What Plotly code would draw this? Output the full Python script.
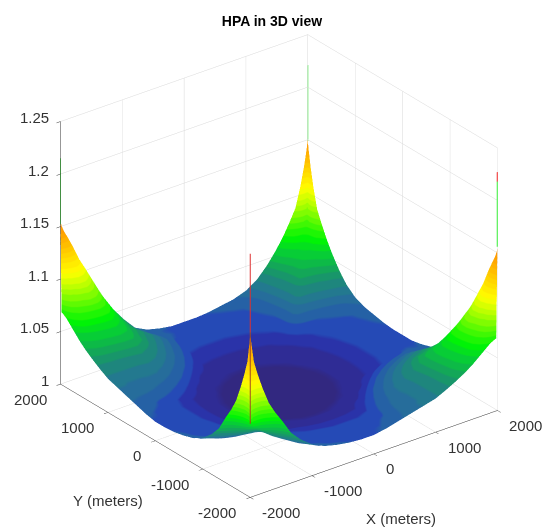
import numpy as np
import plotly.graph_objects as go

# distances from the domain edges (metres) shared by the whole grid
edge_offsets = [0, 20, 60, 120, 200, 300, 400, 520, 660, 820, 1000, 1200, 1400, 1600, 1800, 2000]

# rows common to the front and back corners (lower triangles)
inner_rows = [
    [1.021, 1.021, 1.020, 1.019, 1.018, 1.0175, 1.017, 1.0165, 1.015, 1.0135, 1.0095, 1.0075, 1.005],
    [1.019, 1.019, 1.0185, 1.018, 1.0178, 1.0172, 1.0168, 1.0162, 1.0143, 1.0115, 1.0085, 1.0055, 1.004, 1.003],
    [1.018, 1.018, 1.018, 1.018, 1.0175, 1.017, 1.0165, 1.0155, 1.0135, 1.0108, 1.0075, 1.0047, 1.0034, 1.0022, 1.0018],
    [1.018, 1.018, 1.018, 1.018, 1.0175, 1.017, 1.0165, 1.0155, 1.0135, 1.0105, 1.0075, 1.0045, 1.0032, 1.002, 1.0015, 1.001],
]
back_rows = [
    [1.150],
    [1.141, 1.075],
    [1.126, 1.097, 1.073],
    [1.108, 1.096, 1.078, 1.068],
    [1.089, 1.084, 1.075, 1.066, 1.062],
    [1.077, 1.074, 1.069, 1.064, 1.058, 1.056],
    [1.066, 1.064, 1.062, 1.058, 1.054, 1.051, 1.050],
    [1.055, 1.054, 1.053, 1.051, 1.048, 1.046, 1.045, 1.044],
    [1.044, 1.044, 1.043, 1.041, 1.040, 1.038, 1.037, 1.036, 1.036],
    [1.034, 1.034, 1.033, 1.032, 1.031, 1.030, 1.029, 1.028, 1.027, 1.027],
    [1.027, 1.027, 1.026, 1.025, 1.023, 1.0215, 1.0205, 1.0195, 1.0185, 1.0175, 1.0165],
    [1.023, 1.023, 1.022, 1.0205, 1.019, 1.018, 1.0175, 1.017, 1.0162, 1.0147, 1.012, 1.009],
]
front_rows = [
    [1.157],
    [1.146, 1.071],
    [1.128, 1.095, 1.069],
    [1.115, 1.099, 1.077, 1.064],
    [1.100, 1.092, 1.079, 1.065, 1.058],
    [1.084, 1.080, 1.072, 1.064, 1.056, 1.052],
    [1.073, 1.070, 1.066, 1.059, 1.053, 1.048, 1.046],
    [1.062, 1.060, 1.057, 1.053, 1.048, 1.044, 1.041, 1.040],
    [1.048, 1.047, 1.045, 1.043, 1.040, 1.037, 1.034, 1.033, 1.032],
    [1.038, 1.038, 1.036, 1.035, 1.032, 1.030, 1.028, 1.027, 1.0255, 1.025],
    [1.030, 1.029, 1.028, 1.027, 1.025, 1.023, 1.0215, 1.020, 1.019, 1.018, 1.0165],
    [1.024, 1.024, 1.023, 1.021, 1.020, 1.0185, 1.0175, 1.017, 1.0162, 1.0147, 1.012, 1.009],
]
# left and right corners: rows run away from the far edge, columns away from the near edge
side_rows = [
    [1.155, 1.150, 1.144, 1.137, 1.127, 1.113, 1.102, 1.088, 1.072, 1.056, 1.042, 1.029, 1.023, 1.020, 1.018, 1.018],
    [1.069, 1.095, 1.127, 1.129, 1.122, 1.110, 1.100, 1.087, 1.071, 1.056, 1.042, 1.029, 1.023, 1.020, 1.018, 1.018],
    [1.068, 1.081, 1.092, 1.112, 1.113, 1.105, 1.096, 1.084, 1.070, 1.055, 1.041, 1.028, 1.022, 1.019, 1.018, 1.018],
    [1.066, 1.072, 1.082, 1.087, 1.099, 1.097, 1.090, 1.081, 1.068, 1.053, 1.040, 1.028, 1.022, 1.019, 1.018, 1.018],
    [1.062, 1.065, 1.071, 1.077, 1.080, 1.086, 1.083, 1.076, 1.065, 1.052, 1.039, 1.030, 1.0235, 1.0195, 1.0175, 1.0175],
    [1.057, 1.059, 1.062, 1.067, 1.070, 1.072, 1.073, 1.070, 1.061, 1.049, 1.040, 1.032, 1.0245, 1.019, 1.017, 1.017],
    [1.052, 1.053, 1.055, 1.058, 1.060, 1.062, 1.063, 1.063, 1.057, 1.047, 1.040, 1.0325, 1.0248, 1.0175, 1.0165, 1.0165],
    [1.047, 1.048, 1.049, 1.051, 1.053, 1.054, 1.0555, 1.056, 1.053, 1.045, 1.038, 1.0307, 1.0233, 1.0162, 1.0155, 1.0155],
    [1.042, 1.042, 1.043, 1.044, 1.045, 1.046, 1.047, 1.048, 1.048, 1.043, 1.035, 1.028, 1.021, 1.0143, 1.0135, 1.0135],
    [1.037, 1.037, 1.037, 1.037, 1.0375, 1.0375, 1.038, 1.039, 1.040, 1.0366, 1.0313, 1.0249, 1.018, 1.0115, 1.0108, 1.0105],
    [1.032, 1.032, 1.032, 1.032, 1.032, 1.032, 1.032, 1.032, 1.033, 1.031, 1.0265, 1.0205, 1.0135, 1.0085, 1.0075, 1.0075],
    [1.029, 1.029, 1.029, 1.029, 1.028, 1.028, 1.028, 1.0285, 1.028, 1.0249, 1.0205, 1.014, 1.0075, 1.0055, 1.0047, 1.0045],
    [1.026, 1.026, 1.026, 1.0255, 1.0255, 1.0255, 1.0248, 1.0233, 1.021, 1.018, 1.0135, 1.0075, 1.005, 1.004, 1.0034, 1.0032],
    [1.023, 1.023, 1.0225, 1.022, 1.021, 1.0195, 1.0175, 1.0165, 1.0147, 1.0115, 1.0085, 1.0055, 1.004, 1.003, 1.0022, 1.002],
    [1.020, 1.020, 1.0195, 1.019, 1.018, 1.017, 1.0165, 1.0155, 1.0135, 1.0108, 1.0075, 1.0047, 1.0034, 1.0022, 1.0018, 1.0015],
    [1.018, 1.018, 1.018, 1.018, 1.0175, 1.017, 1.0165, 1.0155, 1.0135, 1.0105, 1.0075, 1.0045, 1.0032, 1.002, 1.0015, 1.001],
]

xy_ticks = [-2000, -1000, 0, 1000, 2000]
z_ticks = [1, 1.05, 1.1, 1.15, 1.2, 1.25]
z_tick_labels = ["1", "1.05", "1.1", "1.15", "1.2", "1.25"]

# vertical spikes standing on the four corners
spike_x = [-2000, 2000, 1996, 1996, -2000, -2000]
spike_y = [2000, 2000, -2000, -2000, -2000, -2000]
spike_lo = [1.152, 1.149, 1.156, 1.218, 1.070, 1.157]
spike_hi = [1.215, 1.221, 1.218, 1.227, 1.157, 1.232]
spike_colors = ["#55ee55", "#33ee33", "#33ee33", "#ee2020", "#a04a20", "#dd3030"]

ramp_stops = [1.0024, 1.0072, 1.012, 1.0168, 1.0216, 1.0264, 1.0312, 1.036, 1.045, 1.055, 1.065, 1.09, 1.105, 1.14, 1.23]
ramp_colors = [(50, 40, 128), (47, 45, 150), (42, 52, 170), (37, 75, 183), (38, 98, 165), (38, 110, 155),
               (35, 122, 143), (30, 135, 125), (20, 165, 90), (8, 205, 55), (0, 245, 5), (170, 255, 0),
               (255, 255, 0), (255, 170, 0), (255, 0, 0)]
band_count = 48


def symmetric(rows, n):
    q = np.zeros((n, n))
    for j, row in enumerate(rows):
        for i, v in enumerate(row):
            q[i, j] = v
            q[j, i] = v
    return q


offsets = np.array(edge_offsets, float)
n = len(offsets)
front = symmetric(front_rows + inner_rows, n)
back = symmetric(back_rows + inner_rows, n)
side = np.array(side_rows)
coords = np.concatenate([offsets - 2000, (2000 - offsets[:-1])[::-1]])
m = len(coords)
full = np.zeros((m, m))
for ry in range(m):
    for cx in range(m):
        i = cx if cx < n else m - 1 - cx
        j = ry if ry < n else m - 1 - ry
        if cx < n and ry < n:
            full[ry, cx] = front[j, i]
        elif cx >= n and ry >= n:
            full[ry, cx] = back[j, i]
        elif cx < n:
            full[ry, cx] = side[j, i]
        else:
            full[ry, cx] = side[i, j]

zmin, zmax = 1.0, 1.23
scale = []
for k in range(band_count):
    mid = zmin + (k + 0.5) / band_count * (zmax - zmin)
    c = [int(np.interp(mid, ramp_stops, [col[q] for col in ramp_colors])) for q in range(3)]
    s = f"rgb({c[0]},{c[1]},{c[2]})"
    scale.append([k / band_count, s])
    scale.append([(k + 1) / band_count, s])

fig = go.Figure()
fig.add_trace(go.Surface(
    x=coords, y=coords, z=full, cmin=zmin, cmax=zmax, colorscale=scale, showscale=False,
    lighting=dict(ambient=1, diffuse=0, specular=0, roughness=1, fresnel=0),
    hoverinfo="skip"))
for cx, cy, lo, hi, col in zip(spike_x, spike_y, spike_lo, spike_hi, spike_colors):
    fig.add_trace(go.Scatter3d(x=[cx, cx], y=[cy, cy], z=[lo, hi], mode="lines",
                               line=dict(color=col, width=2), hoverinfo="skip", showlegend=False))

axis_common = dict(showbackground=False, showspikes=False, gridcolor="#d8d8d8", gridwidth=1,
                   zeroline=False, showline=True, linecolor="#303030", linewidth=1,
                   ticks="outside", ticklen=5, tickcolor="#303030", showticklabels=False, title="")
font = dict(family="Liberation Sans", size=15, color="#333333")
notes = []
for v in xy_ticks:
    notes.append(dict(x=v, y=-2000, z=1, text=str(v), showarrow=False, font=font, xanchor="left", xshift=10, yshift=-15))
    notes.append(dict(x=-2000, y=v, z=1, text=str(v), showarrow=False, font=font, xanchor="right", xshift=-12, yshift=-15))
for v, t in zip(z_ticks, z_tick_labels):
    notes.append(dict(x=-2000, y=2000, z=v, text=t, showarrow=False, font=font, xanchor="right", xshift=-10, yshift=4))

r = 3.0
size = 1.194
fig.update_layout(
    width=544, height=527, margin=dict(l=0, r=0, t=0, b=0), paper_bgcolor="white",
    title=dict(text="<b>HPA in 3D view</b>", x=272 / 544, xanchor="center", y=1 - 21 / 527, yanchor="middle",
               font=dict(family="Liberation Sans", size=14, color="black")),
    showlegend=False,
    annotations=[
        dict(x=108 / 544, y=1 - 500 / 527, xref="paper", yref="paper", text="Y (meters)", showarrow=False,
             font=font, xanchor="center", yanchor="middle"),
        dict(x=401 / 544, y=1 - 518 / 527, xref="paper", yref="paper", text="X (meters)", showarrow=False,
             font=font, xanchor="center", yanchor="middle"),
    ],
    scene=dict(
        domain=dict(x=[14 / 544, 1], y=[0, 1 - 5 / 527]),
        xaxis=dict(range=[-2000, 2000], tickvals=xy_ticks, **axis_common),
        yaxis=dict(range=[-2000, 2000], tickvals=xy_ticks, **axis_common),
        zaxis=dict(range=[1, 1.25], tickvals=z_ticks, **axis_common),
        aspectmode="manual", aspectratio=dict(x=size, y=size, z=0.948 * size),
        camera=dict(eye=dict(x=-0.541 * r, y=-0.705 * r, z=0.458 * r), center=dict(x=0, y=0, z=0),
                    up=dict(x=0, y=0, z=1), projection=dict(type="orthographic")),
        annotations=notes,
    ),
)
fig.write_html("out.html", config={"displayModeBar": False},
               post_script="document.body.style.margin='0';")
